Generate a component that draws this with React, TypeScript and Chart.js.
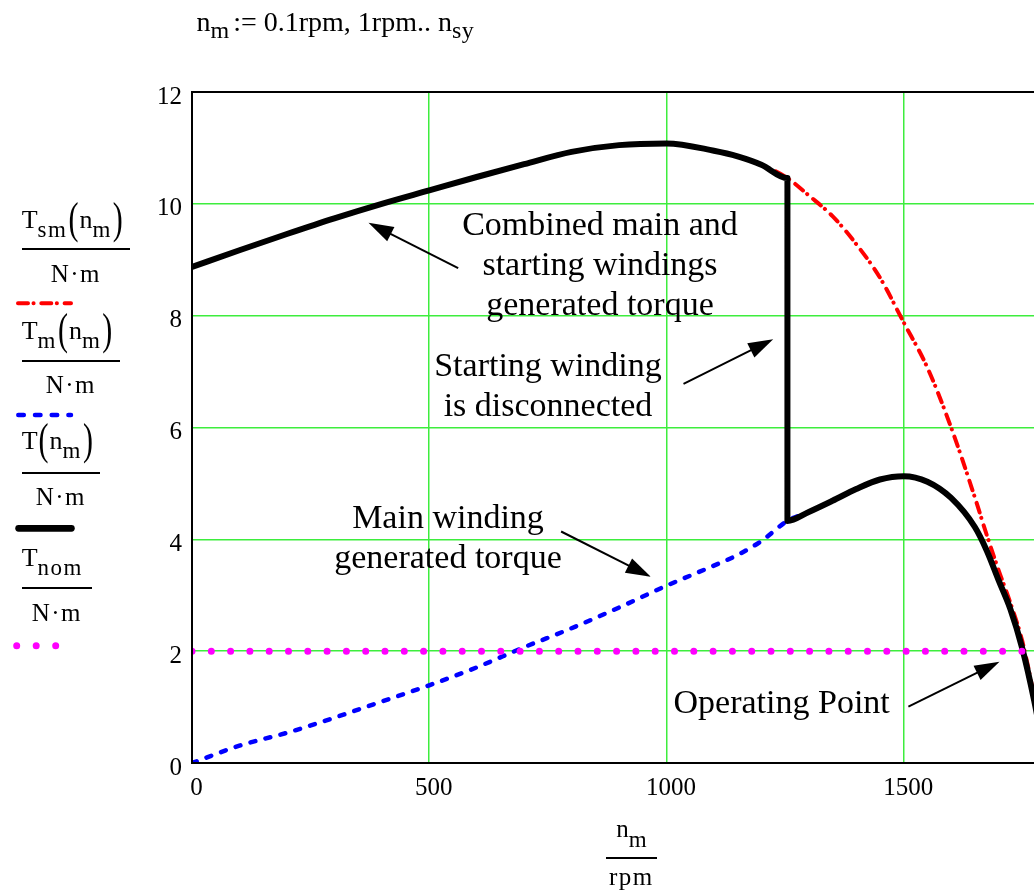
import React, { useEffect, useRef } from "react";
import { Chart, registerables } from "chart.js";

Chart.register(...registerables);

const SERIF = "'Liberation Serif', 'Times New Roman', Times, serif";

// shaft speed samples (rpm)
const speedRpm = [0, 100, 200, 300, 400, 500, 600, 700, 800, 900, 1000, 1100, 1150, 1200, 1255, 1300, 1350, 1400, 1450, 1500, 1550, 1600, 1650, 1675, 1700, 1725, 1750, 1775, 1800];
// combined main + starting winding torque T_sm (N·m)
const torqueCombined = [8.87, 9.17, 9.46, 9.74, 10.0, 10.24, 10.48, 10.71, 10.93, 11.05, 11.08, 10.95, 10.85, 10.7, 10.46, 10.15, 9.78, 9.28, 8.68, 7.88, 7.07, 6.0, 4.75, 4.08, 3.45, 2.86, 2.18, 1.18, 0];
// main winding torque T_m (N·m)
const torqueMain = [0, 0.31, 0.54, 0.81, 1.1, 1.39, 1.71, 2.07, 2.41, 2.78, 3.17, 3.53, 3.72, 3.97, 4.33, 4.49, 4.69, 4.9, 5.07, 5.13, 5.03, 4.74, 4.22, 3.8, 3.27, 2.75, 2.05, 1.12, 0];
// speed at which the starting winding is disconnected (rpm)
const switchSpeed = 1255;
// nominal torque (N·m)
const nominalTorque = 2;

const speedRange = [0, 1800];
const torqueRange = [0, 12];
const speedTicks = [0, 500, 1000, 1500];
const torqueTicks = [0, 2, 4, 6, 8, 10, 12];

// annotation arrows, tail -> tip, in data coordinates
const arrowTailSpeed = [561, 1036, 778, 1510];
const arrowTailTorque = [8.85, 6.78, 4.14, 1.01];
const arrowTipSpeed = [372, 1225, 967, 1702];
const arrowTipTorque = [9.66, 7.58, 3.33, 1.81];

const GRID = "#3ded3d";

const framePlugin = {
  id: "frameArrows",
  afterDraw(chart: any) {
    const { ctx, chartArea: a, scales } = chart;
    ctx.save();
    ctx.strokeStyle = "#000";
    ctx.fillStyle = "#000";
    ctx.lineWidth = 2;
    ctx.strokeRect(a.left, a.top, a.right - a.left, a.bottom - a.top);
    for (let i = 0; i < arrowTailSpeed.length; i++) {
      const x0 = scales.x.getPixelForValue(arrowTailSpeed[i]);
      const y0 = scales.y.getPixelForValue(arrowTailTorque[i]);
      const x1 = scales.x.getPixelForValue(arrowTipSpeed[i]);
      const y1 = scales.y.getPixelForValue(arrowTipTorque[i]);
      const ang = Math.atan2(y1 - y0, x1 - x0);
      const L = 25;
      const W = 8;
      const c = Math.cos(ang);
      const s = Math.sin(ang);
      const bx = x1 - L * c;
      const by = y1 - L * s;
      ctx.beginPath();
      ctx.moveTo(x0, y0);
      ctx.lineTo(bx + 2 * c, by + 2 * s);
      ctx.lineWidth = 2;
      ctx.stroke();
      ctx.beginPath();
      ctx.moveTo(x1, y1);
      ctx.lineTo(bx + W * s, by - W * c);
      ctx.lineTo(bx - W * s, by + W * c);
      ctx.closePath();
      ctx.fill();
    }
    ctx.restore();
  },
};

function Sub({ children, size = 23, dy = 9, ls = 1.5 }: any) {
  return (
    <span style={{ fontSize: size, position: "relative", top: dy, lineHeight: "10px", letterSpacing: ls }}>
      {children}
    </span>
  );
}

function Paren({ ch }: { ch: string }) {
  return (
    <span
      style={{
        display: "inline-block",
        fontSize: 30,
        lineHeight: "20px",
        transformOrigin: "50% 12.9px",
        transform: "translateY(2px) scaleY(1.45)",
        margin: "0 1px",
      }}
    >
      {ch}
    </span>
  );
}

function Frac({ left, lineW, lineY, numBase, denBase, num, den, numSize = 26, denSize = 25, numAlign = "left" }: any) {
  return (
    <>
      <div
        style={{
          position: "absolute",
          left: numAlign === "left" ? left : left - 20,
          width: numAlign === "left" ? lineW + 60 : lineW + 40,
          top: numBase - 0.8375 * numSize,
          fontSize: numSize,
          lineHeight: numSize + "px",
          textAlign: numAlign,
          whiteSpace: "nowrap",
        }}
      >
        {num}
      </div>
      <div style={{ position: "absolute", left, top: lineY - 1, width: lineW, height: 2, background: "#000" }} />
      <div
        style={{
          position: "absolute",
          left: left - 20,
          width: lineW + 40,
          top: denBase - 0.8375 * denSize,
          fontSize: denSize,
          lineHeight: denSize + "px",
          textAlign: "center",
          whiteSpace: "nowrap",
          letterSpacing: 1.5,
        }}
      >
        {den}
      </div>
    </>
  );
}

function Note({ cx, top, lines }: { cx: number; top: number; lines: string[] }) {
  return (
    <div
      style={{
        position: "absolute",
        left: cx - 200,
        width: 400,
        top,
        fontSize: 34,
        lineHeight: "40px",
        textAlign: "center",
        whiteSpace: "nowrap",
      }}
    >
      {lines.map((l, i) => (
        <div key={i}>{l}</div>
      ))}
    </div>
  );
}

export default function App() {
  const canvasRef = useRef<HTMLCanvasElement | null>(null);

  useEffect(() => {
    const canvas = canvasRef.current;
    if (!canvas) return;
    const combinedPts = speedRpm.map((n, i) => ({ x: n, y: torqueCombined[i] }));
    const mainPts = speedRpm.map((n, i) => ({ x: n, y: torqueMain[i] }));
    const motorPts = [
      ...combinedPts.filter((p) => p.x <= switchSpeed),
      ...mainPts.filter((p) => p.x >= switchSpeed),
    ];
    const nominalPts = speedRange.map((n) => ({ x: n, y: nominalTorque }));
    const tickFont = { family: SERIF, size: 25 };

    const chart = new Chart(canvas, {
      type: "scatter",
      data: {
        datasets: [
          {
            label: "Tnom",
            data: nominalPts,
            showLine: true,
            pointRadius: 0,
            borderColor: "#ff00ff",
            borderWidth: 7,
            borderDash: [0, 19.3],
            borderCapStyle: "round",
            order: 0,
          },
          {
            label: "T",
            data: motorPts,
            showLine: true,
            pointRadius: 0,
            borderColor: "#000000",
            borderWidth: 6,
            borderJoinStyle: "round",
            cubicInterpolationMode: "monotone",
            order: 1,
          },
          {
            label: "Tm",
            data: mainPts,
            showLine: true,
            pointRadius: 0,
            borderColor: "#0000ff",
            borderWidth: 4.5,
            borderDash: [5, 10.5],
            borderCapStyle: "round",
            cubicInterpolationMode: "monotone",
            order: 2,
          },
          {
            label: "Tsm",
            data: combinedPts,
            showLine: true,
            pointRadius: 0,
            borderColor: "#ff0000",
            borderWidth: 4,
            borderDash: [10, 5.5, 0.1, 7.7],
            borderCapStyle: "round",
            cubicInterpolationMode: "monotone",
            order: 3,
          },
        ] as any,
      },
      options: {
        animation: false,
        responsive: false,
        events: [],
        layout: { padding: { top: 92, left: 0, right: 0, bottom: 0 } },
        plugins: { legend: { display: false }, tooltip: { enabled: false } },
        scales: {
          x: {
            type: "linear",
            min: speedRange[0],
            max: speedRange[1],
            afterFit: (s: any) => {
              s.height = 132;
            },
            afterBuildTicks: (s: any) => {
              s.ticks = speedTicks.map((v) => ({ value: v }));
            },
            ticks: {
              autoSkip: false,
              font: tickFont,
              color: "#000",
              padding: 10,
              labelOffset: 4.5,
              maxRotation: 0,
              callback: (v: any) => String(v),
            },
            grid: { color: GRID, lineWidth: 1.5, drawTicks: false },
            border: { color: "#000", width: 2 },
          },
          y: {
            type: "linear",
            min: torqueRange[0],
            max: torqueRange[1],
            afterFit: (s: any) => {
              s.width = 192;
            },
            afterBuildTicks: (s: any) => {
              s.ticks = torqueTicks.map((v) => ({ value: v }));
            },
            ticks: {
              autoSkip: false,
              font: tickFont,
              color: "#000",
              padding: 10,
              labelOffset: 5,
              callback: (v: any) => String(v),
            },
            grid: { color: GRID, lineWidth: 1.5, drawTicks: false },
            border: { color: "#000", width: 2 },
          },
        },
      } as any,
      plugins: [framePlugin],
    });
    return () => chart.destroy();
  }, []);

  return (
    <div
      style={{
        position: "fixed",
        left: 0,
        top: 0,
        width: 1034,
        height: 895,
        overflow: "hidden",
        background: "#fff",
        fontFamily: SERIF,
        color: "#000",
      }}
    >
      <canvas ref={canvasRef} width={1046} height={895} style={{ position: "absolute", left: 0, top: 0 }} />

      {/* title */}
      <div
        style={{
          position: "absolute",
          left: 196.5,
          top: 31.7 - 0.8375 * 28,
          fontSize: 28,
          lineHeight: "28px",
          whiteSpace: "nowrap",
        }}
      >
        n<Sub size={24} dy={6.7} ls={0}>m</Sub>
        <span style={{ marginLeft: 4 }}>:= 0.1rpm, 1rpm.. n</span>
        <Sub size={24} dy={6.7} ls={0.5}>sy</Sub>
      </div>

      {/* legend */}
      <Frac
        left={21.7}
        lineW={108.3}
        lineY={249.3}
        numBase={228.3}
        denBase={281.7}
        num={
          <>
            T<Sub>sm</Sub>
            <Paren ch="(" />n<Sub>m</Sub>
            <Paren ch=")" />
          </>
        }
        den="N·m"
      />
      <Frac
        left={21.7}
        lineW={98.3}
        lineY={361}
        numBase={340}
        denBase={393.3}
        num={
          <>
            T<Sub>m</Sub>
            <Paren ch="(" />n<Sub>m</Sub>
            <Paren ch=")" />
          </>
        }
        den="N·m"
      />
      <Frac
        left={21.7}
        lineW={78.3}
        lineY={472.7}
        numBase={450}
        denBase={505}
        num={
          <>
            T<Paren ch="(" />n<Sub>m</Sub>
            <Paren ch=")" />
          </>
        }
        den="N·m"
      />
      <Frac
        left={21.7}
        lineW={70.3}
        lineY={588.3}
        numBase={566.7}
        denBase={620.7}
        num={
          <>
            T<Sub>nom</Sub>
          </>
        }
        den="N·m"
      />
      <svg width={190} height={700} style={{ position: "absolute", left: 0, top: 0 }}>
        <line x1={18} x2={71} y1={303.3} y2={303.3} stroke="#ff0000" strokeWidth={4} strokeDasharray="10 5.5 0.1 7.7" strokeLinecap="round" />
        <line x1={18.3} x2={71} y1={415} y2={415} stroke="#0000ff" strokeWidth={4.5} strokeDasharray="5.5 11.2" strokeLinecap="round" />
        <line x1={18.6} x2={71.4} y1={528.3} y2={528.3} stroke="#000" strokeWidth={6.7} strokeLinecap="round" />
        <line x1={16.7} x2={57} y1={645.7} y2={645.7} stroke="#ff00ff" strokeWidth={7} strokeDasharray="0 19.5" strokeLinecap="round" />
      </svg>

      {/* x-axis title */}
      <Frac
        left={606}
        lineW={50.7}
        lineY={858.3}
        numBase={836.7}
        denBase={885}
        numSize={25}
        numAlign="center"
        num={
          <>
            n<Sub dy={10} size={23} ls={0}>m</Sub>
          </>
        }
        den="rpm"
      />

      {/* annotations */}
      <Note cx={600} top={203.5} lines={["Combined main and", "starting windings", "generated torque"]} />
      <Note cx={548} top={345.2} lines={["Starting winding", "is disconnected"]} />
      <Note cx={448} top={496.8} lines={["Main winding", "generated torque"]} />
      <Note cx={781.7} top={681.8} lines={["Operating Point"]} />
    </div>
  );
}
